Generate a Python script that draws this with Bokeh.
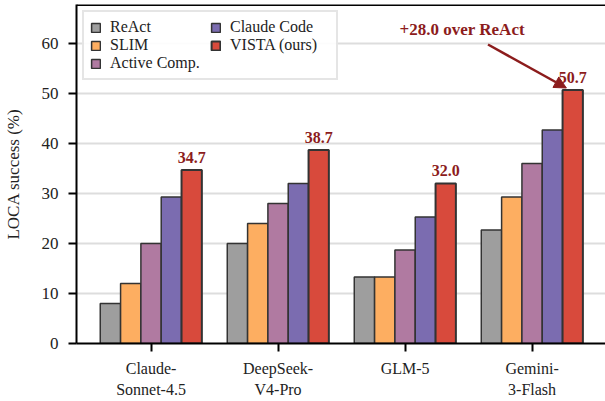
from bokeh.plotting import figure
from bokeh.models import Legend, LegendItem, Arrow, NormalHead, Span, FixedTicker
from bokeh.core.properties import value
from bokeh.embed import file_html
from bokeh.resources import INLINE

# ---- data ----
models = ["Claude-\nSonnet-4.5", "DeepSeek-\nV4-Pro", "GLM-5", "Gemini-\n3-Flash"]
methods = ["ReAct", "SLIM", "Active Comp.", "Claude Code", "VISTA (ours)"]
react = [8.0, 20.0, 13.3, 22.7]
slim = [12.0, 24.0, 13.3, 29.3]
active_comp = [20.0, 28.0, 18.7, 36.0]
claude_code = [29.3, 32.0, 25.3, 42.7]
vista = [34.7, 38.7, 32.0, 50.7]
y_ticks = [0, 10, 20, 30, 40, 50, 60]

series = [react, slim, active_comp, claude_code, vista]
colors = ["#9e9e9e", "#fdae61", "#b07aa1", "#7b6cb0", "#d84a3c"]
edge_w = [1.5, 1.5, 1.5, 1.5, 2.0]

FONT = "Liberation Serif"
ANN = "#8c1c1c"
BW = 0.16
Y_TOP = 67.8

p = figure(width=605, height=401, output_backend="svg", toolbar_location=None,
           x_range=(-0.587, 3.578), y_range=(0, Y_TOP),
           min_border_left=76, min_border_right=0, min_border_top=4, min_border_bottom=58)
p.outline_line_color = None
p.background_fill_color = "white"

renderers = []
for i, (vals, col, lw) in enumerate(zip(series, colors, edge_w)):
    xs = [k + (i - 2) * BW for k in range(len(models))]
    r = p.vbar(x=xs, top=vals, width=BW, fill_color=col, line_color="#333333", line_width=lw)
    renderers.append(r)

# value labels above VISTA bars
p.text(x=[k + 2 * BW for k in range(len(models))], y=vista,
       text=[f"{v:.1f}" for v in vista], text_align="center", text_baseline="alphabetic",
       y_offset=-13, text_font=value(FONT), text_font_style="bold", text_font_size="16px",
       text_color=ANN)

# annotation arrow
gain = vista[3] - react[3]
x_end = 3 + 2 * BW - 0.05
y_end = vista[3] + 0.4
p.add_layout(Arrow(end=NormalHead(size=12, fill_color=ANN, line_color=ANN),
                   x_start=x_end - 0.617, y_start=y_end + 8.7, x_end=x_end, y_end=y_end,
                   line_color=ANN, line_width=2.5))
p.text(x=[x_end - 0.82], y=[y_end + 11.7], text=[f"+{gain:.1f} over ReAct"],
       text_align="center", text_baseline="middle", text_font=value(FONT),
       text_font_style="bold", text_font_size="17px", text_color=ANN)

# top spine
p.add_layout(Span(location=Y_TOP, dimension="width", line_color="black", line_width=3))

# axes
p.yaxis.ticker = FixedTicker(ticks=y_ticks)
p.xaxis.ticker = FixedTicker(ticks=list(range(len(models))))
p.xaxis.major_label_overrides = {k: m for k, m in enumerate(models)}
for ax in (p.xaxis[0], p.yaxis[0]):
    ax.axis_line_width = 2
    ax.axis_line_color = "black"
    ax.major_tick_line_width = 2
    ax.major_tick_out = 8
    ax.major_tick_in = 0
    ax.minor_tick_line_color = None
    ax.major_label_text_font = FONT
    ax.major_label_text_color = "#222222"
p.yaxis.major_label_text_font_size = "17px"
p.xaxis.major_label_text_font_size = "16px"
p.xaxis.major_label_text_line_height = 1.28
p.yaxis.major_label_standoff = 10
p.xaxis.major_label_standoff = 8
p.yaxis.axis_label = "LOCA success (%)"
p.yaxis.axis_label_text_font = FONT
p.yaxis.axis_label_text_font_size = "17px"
p.yaxis.axis_label_text_font_style = "normal"
p.yaxis.axis_label_text_color = "#222222"
p.yaxis.axis_label_standoff = 16

p.xgrid.grid_line_color = None
p.ygrid.grid_line_color = "#dddddd"
p.ygrid.grid_line_width = 2

legend = Legend(items=[LegendItem(label=m, renderers=[r]) for m, r in zip(methods, renderers)],
                location="top_left", orientation="vertical", nrows=3)
legend.label_text_font = FONT
legend.label_text_font_size = "16px"
legend.label_text_line_height = 0.9
legend.label_text_color = "#222222"
legend.glyph_width = 11
legend.glyph_height = 11
legend.label_height = 12
legend.label_width = 100
legend.spacing = 0
legend.padding = 6
legend.margin = 6
legend.label_standoff = 9
legend.border_line_color = "#cccccc"
legend.border_line_width = 2
legend.background_fill_alpha = 0.9
p.add_layout(legend)

open("out.html", "w").write(file_html(p, INLINE))
